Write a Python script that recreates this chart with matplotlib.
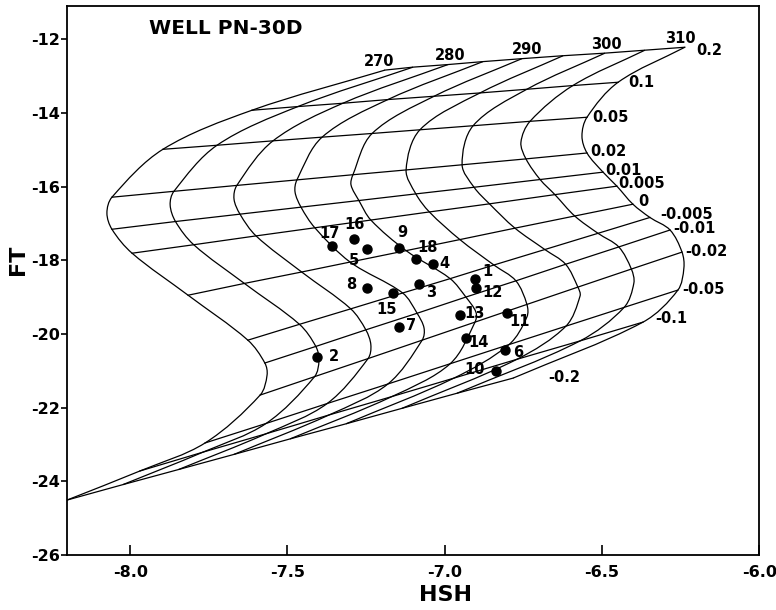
import matplotlib
matplotlib.use("Agg")
import numpy as np
import matplotlib.pyplot as plt
from matplotlib.path import Path
from matplotlib.patches import PathPatch
from matplotlib.ticker import FormatStrFormatter

plt.rcParams['font.family'] = ['DejaVu Sans']
plt.rcParams['font.weight'] = 'bold'
plt.rcParams['axes.unicode_minus'] = False

# isotherms (deg C) and steam fraction lines of the FT-HSH grid
temps = [270, 275, 280, 285, 290, 295, 300, 305, 310]
temp_labels = ['270', '', '280', '', '290', '', '300', '', '310']
y_labels = ['0.2', '0.1', '0.05', '0.02', '0.01', '0.005', '0',
            '-0.005', '-0.01', '-0.02', '-0.05', '-0.1', '-0.2']

# grid nodes, one row per y value, one column per temperature
grid_hsh = [
    [-7.190, -7.101, -6.990, -6.879, -6.755, -6.624, -6.491, -6.364, -6.237],
    [-7.613, -7.467, -7.324, -7.181, -7.034, -6.888, -6.739, -6.593, -6.449],
    [-7.896, -7.724, -7.546, -7.390, -7.231, -7.079, -6.910, -6.729, -6.548],
    [-8.058, -7.861, -7.661, -7.470, -7.292, -7.123, -6.945, -6.742, -6.548],
    [-8.058, -7.856, -7.651, -7.457, -7.273, -7.092, -6.907, -6.697, -6.497],
    [-7.994, -7.798, -7.600, -7.413, -7.235, -7.049, -6.858, -6.650, -6.453],
    [-7.816, -7.637, -7.455, -7.301, -7.123, -6.952, -6.777, -6.587, -6.402],
    [-7.626, -7.462, -7.299, -7.134, -6.983, -6.844, -6.682, -6.513, -6.348],
    [-7.572, -7.410, -7.251, -7.088, -6.933, -6.774, -6.616, -6.447, -6.284],
    [-7.587, -7.414, -7.244, -7.072, -6.904, -6.739, -6.577, -6.407, -6.246],
    [-7.762, -7.568, -7.374, -7.181, -6.983, -6.796, -6.615, -6.430, -6.259],
    [-7.969, -7.769, -7.568, -7.368, -7.168, -6.971, -6.771, -6.570, -6.370],
    [-8.201, -8.023, -7.846, -7.670, -7.492, -7.314, -7.136, -6.961, -6.783],
]
grid_ft = [
    [-12.84, -12.76, -12.69, -12.61, -12.53, -12.45, -12.38, -12.30, -12.22],
    [-13.93, -13.83, -13.74, -13.64, -13.55, -13.46, -13.36, -13.26, -13.17],
    [-14.99, -14.88, -14.76, -14.66, -14.56, -14.46, -14.35, -14.23, -14.12],
    [-16.29, -16.13, -15.97, -15.82, -15.68, -15.55, -15.41, -15.25, -15.09],
    [-17.16, -16.95, -16.75, -16.56, -16.38, -16.20, -16.02, -15.81, -15.61],
    [-17.81, -17.58, -17.34, -17.12, -16.91, -16.69, -16.47, -16.22, -15.99],
    [-18.95, -18.63, -18.32, -18.05, -17.74, -17.44, -17.13, -16.80, -16.48],
    [-20.17, -19.74, -19.32, -18.89, -18.50, -18.13, -17.71, -17.27, -16.84],
    [-20.79, -20.34, -19.89, -19.44, -19.00, -18.56, -18.11, -17.64, -17.18],
    [-21.66, -21.16, -20.67, -20.17, -19.68, -19.20, -18.73, -18.24, -17.78],
    [-22.96, -22.43, -21.89, -21.36, -20.81, -20.29, -19.79, -19.28, -18.81],
    [-23.72, -23.21, -22.71, -22.20, -21.70, -21.20, -20.69, -20.19, -19.68],
    [-24.51, -24.09, -23.68, -23.27, -22.85, -22.44, -22.02, -21.61, -21.20],
]

# turning points of the isotherms that bulge between two grid rows
nose_left_hsh = [-8.074, -7.873, -7.670, -7.476, -7.298, None, None, -6.758, -6.564]
nose_left_ft = [-16.72, -16.50, -16.34, -16.15, -15.96, None, None, -14.80, -14.63]
nose_right_hsh = [-7.565, -7.400, -7.235, -7.066, -6.901, -6.739, -6.570, -6.399, -6.240]
nose_right_ft = [-21.12, -20.71, -20.30, -19.84, -19.41, -19.54, -18.97, -18.62, -18.21]

# well samples
sample_names = [str(i) for i in range(1, 19)]
sample_hsh = [-6.904, -7.405, -7.082, -7.038, -7.248, -6.810, -7.144, -7.247, -7.144,
              -6.838, -6.801, -6.900, -6.951, -6.933, -7.165, -7.290, -7.359, -7.092]
sample_ft = [-18.50, -20.62, -18.65, -18.11, -17.70, -20.44, -19.81, -18.76, -17.66,
             -21.01, -19.44, -18.76, -19.49, -20.10, -18.90, -17.42, -17.62, -17.98]

# label offsets in pixels (style only)
sample_dx = [12, 17, 12, 12, -13, 14, 12, -16, 3, -21, 12, 16, 14, 13, -6, 1, -2, 12]
sample_dy = [7, 0, -8, 1, -11, -2, 1, 4, 15, 2, -8, -4, 2, -5, -16, 14, 13, 12]
row_dx = [11, 10, 5, 3, 2, 1, 5, 10, 3, 3, 4, 12, 35]
row_dy = [-3, 0, 0, 1, 2, 3, 3, 3, 1, 1, 1, 4, 1]
temp_dx = [-6, 0, 2, 0, 5, 0, 1, 0, -4]

XSCALE = 8.5  # screen ratio of one HSH unit to one FT unit


def smooth_path(xs, ys):
    # chord-length Catmull-Rom through every node, as cubic Bezier pieces
    p = np.column_stack([xs, ys])
    d = np.hypot(np.diff(p[:, 0]) * XSCALE, np.diff(p[:, 1]))
    t = np.concatenate([[0], np.cumsum(d)])
    n = len(p)
    m = np.zeros_like(p)
    m[0] = (p[1] - p[0]) / (t[1] - t[0])
    m[-1] = (p[-1] - p[-2]) / (t[-1] - t[-2])
    for i in range(1, n - 1):
        m[i] = (p[i + 1] - p[i - 1]) / (t[i + 1] - t[i - 1])
    verts = [tuple(p[0])]
    codes = [Path.MOVETO]
    for i in range(n - 1):
        h = t[i + 1] - t[i]
        verts += [tuple(p[i] + m[i] * h / 3), tuple(p[i + 1] - m[i + 1] * h / 3), tuple(p[i + 1])]
        codes += [Path.CURVE4] * 3
    return Path(verts, codes)


fig = plt.figure(figsize=(7.76, 6.10), dpi=100)
ax = fig.add_axes([0.0867, 0.0902, 0.8919, 0.9000])
lw = 0.9

# steam fraction lines
for r in range(len(y_labels)):
    ax.plot(grid_hsh[r], grid_ft[r], color='black', lw=lw)
    ax.annotate(y_labels[r], (grid_hsh[r][-1], grid_ft[r][-1]),
                xytext=(row_dx[r], row_dy[r]), textcoords='offset pixels',
                ha='left', va='center', fontsize=10.5)

# isotherms
for j, t in enumerate(temps):
    pts = [(grid_hsh[r][j], grid_ft[r][j]) for r in range(len(y_labels))]
    if nose_left_hsh[j] is not None:
        pts.append((nose_left_hsh[j], nose_left_ft[j]))
    if nose_right_hsh[j] is not None:
        pts.append((nose_right_hsh[j], nose_right_ft[j]))
    pts.sort(key=lambda q: -q[1])
    ax.add_patch(PathPatch(smooth_path([q[0] for q in pts], [q[1] for q in pts]),
                           fill=False, edgecolor='black', lw=lw))
    if temp_labels[j]:
        ax.annotate(temp_labels[j], (grid_hsh[0][j], grid_ft[0][j]),
                    xytext=(temp_dx[j], 9), textcoords='offset pixels',
                    ha='center', va='center', fontsize=10.5)

ax.plot(sample_hsh, sample_ft, 'o', color='black', ms=6.5, zorder=5)
for i, name in enumerate(sample_names):
    ax.annotate(name, (sample_hsh[i], sample_ft[i]),
                xytext=(sample_dx[i], sample_dy[i]), textcoords='offset pixels',
                ha='center', va='center', fontsize=10.5)

ax.text(-7.94, -11.70, 'WELL PN-30D', ha='left', va='center', fontsize=14.5)

ax.set_xlim(-8.2, -6.0)
ax.set_ylim(-26, -11.1)
ax.set_xticks([-8.0, -7.5, -7.0, -6.5, -6.0])
ax.set_yticks(range(-26, -11, 2))
ax.xaxis.set_major_formatter(FormatStrFormatter('%.1f'))
ax.tick_params(axis='x', direction='in', length=7, width=1.2, labelsize=11.5, pad=7)
ax.tick_params(axis='y', direction='out', length=4.5, width=1.2, labelsize=11.5, pad=1)
for s in ax.spines.values():
    s.set_linewidth(1.3)

fig.text(18 / 776, 1 - 260 / 610, 'FT', rotation=90, ha='center', va='center', fontsize=16)
fig.text(446 / 776, 1 - 595 / 610, 'HSH', ha='center', va='center', fontsize=16)

fig.savefig('out.png', dpi=100)
